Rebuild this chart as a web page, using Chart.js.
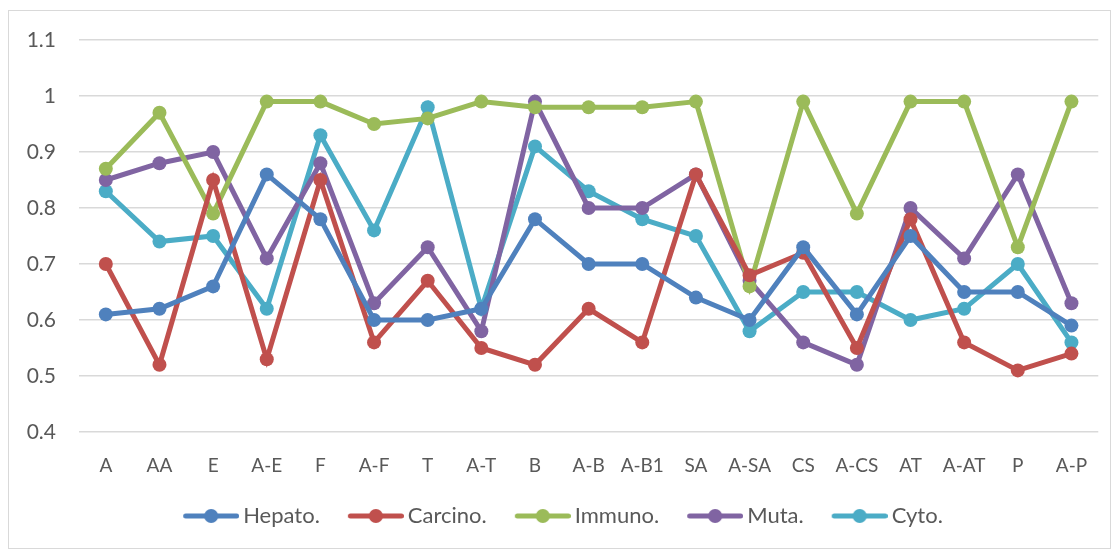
<!DOCTYPE html>
<html>
<head>
<meta charset="utf-8">
<script src="https://cdn.jsdelivr.net/npm/chart.js@4.4.0/dist/chart.umd.min.js"></script>
<style>
  body { margin: 0; background: #fff; }
  #wrap { position: absolute; left: 8px; top: 10px; width: 1101px; height: 537px; border: 1px solid #d9d9d9; }
</style>
</head>
<body>
<div id="wrap"><canvas id="chart"></canvas></div>
<script>
// Datos del grafico
const categories = ["A", "AA", "E", "A-E", "F", "A-F", "T", "A-T", "B", "A-B", "A-B1", "SA", "A-SA", "CS", "A-CS", "AT", "A-AT", "P", "A-P"];
const hepato  = [0.61, 0.62, 0.66, 0.86, 0.78, 0.60, 0.60, 0.62, 0.78, 0.70, 0.70, 0.64, 0.60, 0.73, 0.61, 0.75, 0.65, 0.65, 0.59];
const carcino = [0.70, 0.52, 0.85, 0.53, 0.85, 0.56, 0.67, 0.55, 0.52, 0.62, 0.56, 0.86, 0.68, 0.72, 0.55, 0.78, 0.56, 0.51, 0.54];
const immuno  = [0.87, 0.97, 0.79, 0.99, 0.99, 0.95, 0.96, 0.99, 0.98, 0.98, 0.98, 0.99, 0.66, 0.99, 0.79, 0.99, 0.99, 0.73, 0.99];
const muta    = [0.85, 0.88, 0.90, 0.71, 0.88, 0.63, 0.73, 0.58, 0.99, 0.80, 0.80, 0.86, 0.67, 0.56, 0.52, 0.80, 0.71, 0.86, 0.63];
const cyto    = [0.83, 0.74, 0.75, 0.62, 0.93, 0.76, 0.98, 0.62, 0.91, 0.83, 0.78, 0.75, 0.58, 0.65, 0.65, 0.60, 0.62, 0.70, 0.56];
const yTicks  = [0.4, 0.5, 0.6, 0.7, 0.8, 0.9, 1, 1.1];

const seriesNames = ["Hepato.", "Carcino.", "Immuno.", "Muta.", "Cyto."];
const seriesData = [hepato, carcino, immuno, muta, cyto];
const colors = ["#4F81BD", "#C0504D", "#9BBB59", "#8064A2", "#4BACC6"];

// Icono de leyenda: linea con circulo (el hueco a la izquierda separa los items)
function legendIcon(color) {
  const c = document.createElement("canvas");
  c.width = 81; c.height = 16;
  const g = c.getContext("2d");
  g.strokeStyle = color; g.lineWidth = 5; g.lineCap = "round";
  g.beginPath(); g.moveTo(27.5, 8); g.lineTo(78.5, 8); g.stroke();
  g.fillStyle = color;
  g.beginPath(); g.arc(53, 8, 7, 0, Math.PI * 2); g.fill();
  return c;
}

const ctx = document.getElementById("chart").getContext("2d");
new Chart(ctx, {
  type: "line",
  data: {
    labels: categories,
    datasets: seriesData.map((d, i) => ({
      label: seriesNames[i],
      data: d,
      borderColor: colors[i],
      backgroundColor: colors[i],
      borderWidth: 5,
      pointRadius: 7,
      pointHoverRadius: 7,
      pointBorderWidth: 0,
      tension: 0,
    })),
  },
  options: {
    responsive: true,
    maintainAspectRatio: false,
    animation: false,
    layout: { padding: { left: 0, right: 11, top: 29, bottom: 11 } },
    scales: {
      x: {
        offset: true,
        grid: { display: false, drawTicks: false },
        border: { display: false },
        afterFit: (axis) => { axis.height = 63; },
        ticks: { color: "#595959", font: { family: "Lato", size: 19 }, padding: 22.6, maxRotation: 0, autoSkip: false },
      },
      y: {
        min: 0.4,
        max: 1.1,
        afterBuildTicks: (axis) => { axis.ticks = yTicks.map((v) => ({ value: v })); },
        afterFit: (axis) => { axis.width = 70; axis.paddingTop = 0; axis.paddingBottom = 0; },
        grid: { color: "#d9d9d9", lineWidth: 1.5, drawTicks: false },
        border: { display: false },
        ticks: {
          color: "#595959",
          font: { family: "Lato", size: 21 },
          padding: 23,
          callback: (v) => String(Number(v.toFixed(1))),
        },
      },
    },
    plugins: {
      tooltip: { enabled: false },
      legend: {
        position: "bottom",
        labels: {
          color: "#595959",
          font: { family: "Lato", size: 22 },
          usePointStyle: true,
          pointStyleWidth: 67,
          boxHeight: 16,
          padding: 10,
          generateLabels: (chart) => chart.data.datasets.map((ds, i) => ({
            text: ds.label,
            fillStyle: ds.borderColor,
            strokeStyle: ds.borderColor,
            fontColor: "#595959",
            pointStyle: legendIcon(ds.borderColor),
            datasetIndex: i,
            lineWidth: 0,
          })),
        },
      },
    },
  },
});
</script>
</body>
</html>
